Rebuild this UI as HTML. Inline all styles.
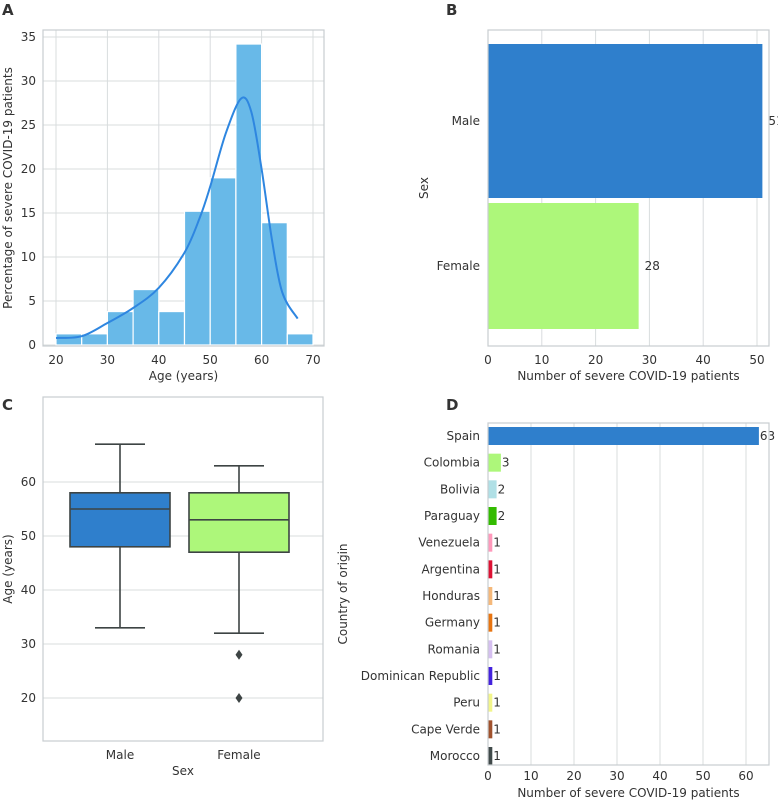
<!DOCTYPE html>
<html><head><meta charset="utf-8"><style>
body{margin:0;background:#fff;}
svg text{font-family:"DejaVu Sans","Liberation Sans",sans-serif;fill:#333;}
</style></head><body>
<svg id="s" width="778" height="803" xmlns="http://www.w3.org/2000/svg"></svg>
<script>
const histBins=[20,25,30,35,40,45,50,55,60,65];
const histVals=[1.27,1.27,3.8,6.3,3.8,15.2,19,34.2,13.9,1.27];
const kdeAge=[20,25,30,35,40,45,48,50,53,56,58,60,62,64,67];
const kdeVal=[0.8,1,2.5,4.2,6.5,10.5,14.5,18,24,28,26.5,20,12,6,3];
const sexCats=["Male","Female"];
const sexVals=[51,28];
const boxStats=[{min:33,q1:48,med:55,q3:58,max:67,out:[]},{min:32,q1:47,med:53,q3:58,max:63,out:[28,20]}];
const countries=["Spain","Colombia","Bolivia","Paraguay","Venezuela","Argentina","Honduras","Germany","Romania","Dominican Republic","Peru","Cape Verde","Morocco"];
const countryVals=[63,3,2,2,1,1,1,1,1,1,1,1,1];
const countryColors=["#2f7fcc","#adf77a","#b0e0e6","#33bb00","#ff99bb","#dd1133","#f5b87a","#e87511","#d5bff0","#4422dd","#f2f58a","#a0522d","#404a4a"];

const S=document.getElementById('s');const NS='http://www.w3.org/2000/svg';
function el(t,a,txt){const e=document.createElementNS(NS,t);for(const k in a)e.setAttribute(k,a[k]);if(txt!==undefined)e.textContent=txt;S.appendChild(e);return e;}
const GRID='#d8dcde',BOR='#c8cdd0';
function frame(x0,y0,x1,y1,n){const r=el('rect',{x:x0,y:y0,width:x1-x0,height:y1-y0,fill:'none',stroke:BOR,'stroke-width':1.2});}
function txt(x,y,t,n,extra){const e=el('text',Object.assign({x:x,y:y,'font-size':12},extra||{}),t);return e;}
function line(x1,y1,x2,y2,c,w,n){const e=el('line',{x1,y1,x2,y2,stroke:c,'stroke-width':w});return e;}

[['A',2,15],['B',446,15],['C',2,410],['D',446,410]].forEach(p=>{txt(p[1],p[2],p[0],'panel-label-'+p[0].toLowerCase(),{'font-size':15,'font-weight':'bold',fill:'#222'});});

// ---- Panel A
(function(){
const L=43,R=324,T=30,B=346;
const ax=v=>56+(v-20)*(313-56)/50, ay=v=>345-v*(345-37)/35;
[0,5,10,15,20,25,30,35].forEach(v=>{line(L,ay(v),R,ay(v),GRID,1,'a-y-grid');txt(L-7,ay(v)+4,v,'a-y-tick',{'text-anchor':'end'});});
[20,30,40,50,60,70].forEach(v=>{line(ax(v),T,ax(v),B,GRID,1,'a-x-grid');txt(ax(v),B+18,v,'a-x-tick',{'text-anchor':'middle'});});
histBins.forEach((b,i)=>{const r=el('rect',{x:ax(b),y:ay(histVals[i]),width:ax(b+5)-ax(b),height:ay(0)-ay(histVals[i]),fill:'#68b9e8',stroke:'#fff','stroke-width':1.2});
});
const pts=kdeAge.map((a,i)=>[ax(a),ay(kdeVal[i])]);
let d='M'+pts[0][0]+','+pts[0][1];
for(let i=0;i<pts.length-1;i++){const p0=pts[Math.max(0,i-1)],p1=pts[i],p2=pts[i+1],p3=pts[Math.min(pts.length-1,i+2)];
d+=`C${(p1[0]+(p2[0]-p0[0])/6).toFixed(1)},${(p1[1]+(p2[1]-p0[1])/6).toFixed(1)} ${(p2[0]-(p3[0]-p1[0])/6).toFixed(1)},${(p2[1]-(p3[1]-p1[1])/6).toFixed(1)} ${p2[0].toFixed(1)},${p2[1].toFixed(1)}`;}
const p=el('path',{d,fill:'none',stroke:'#2e86e0','stroke-width':2,'stroke-linejoin':'round'});
frame(L,T,R,B,'a-axes');
txt((L+R)/2,B+34,'Age (years)','a-x-title',{'text-anchor':'middle'});
txt(0,0,'Percentage of severe COVID-19 patients','a-y-title',{'text-anchor':'middle',transform:`translate(12,${(T+B)/2}) rotate(-90)`});
})();

// ---- Panel B
(function(){
const L=488,R=769,T=30,B=346;
const bx=v=>488+v*(757-488)/50;
[0,10,20,30,40,50].forEach(v=>{line(bx(v),T,bx(v),B,GRID,1,'b-x-grid');txt(bx(v),B+18,v,'b-x-tick',{'text-anchor':'middle'});});
const cy=[121,266],hh=[77,63];const cols=['#2f7fcc','#adf77a'];
sexCats.forEach((c,i)=>{const r=el('rect',{x:bx(0),y:cy[i]-hh[i],width:bx(sexVals[i])-bx(0),height:2*hh[i],fill:cols[i]});
txt(L-8,cy[i]+4,c,'b-y-tick',{'text-anchor':'end'});txt(bx(sexVals[i])+6,cy[i]+4,sexVals[i],'bar-value-'+c.toLowerCase());});
frame(L,T,R,B,'b-axes');
txt((L+R)/2,B+34,'Number of severe COVID-19 patients','b-x-title',{'text-anchor':'middle'});
txt(0,0,'Sex','b-y-title',{'text-anchor':'middle',transform:`translate(428,${(T+B)/2}) rotate(-90)`});
})();

// ---- Panel C
(function(){
const L=43,R=323,T=397,B=741;
const cy=v=>482+(v-60)*(698-482)/(20-60);
[20,30,40,50,60].forEach(v=>{line(L,cy(v),R,cy(v),GRID,1,'c-y-grid');txt(L-7,cy(v)+4,v,'c-y-tick',{'text-anchor':'end'});});
const cx=[120,239],hw=50,cols=['#2f7fcc','#adf77a'],ink='#3d4444';
boxStats.forEach((s,i)=>{const n=sexCats[i].toLowerCase();
line(cx[i],cy(s.max),cx[i],cy(s.q3),ink,1.6,'whisker-'+n);line(cx[i],cy(s.q1),cx[i],cy(s.min),ink,1.6,'whisker-'+n);
line(cx[i]-hw/2,cy(s.max),cx[i]+hw/2,cy(s.max),ink,1.6,'cap-'+n);line(cx[i]-hw/2,cy(s.min),cx[i]+hw/2,cy(s.min),ink,1.6,'cap-'+n);
const r=el('rect',{x:cx[i]-hw,y:cy(s.q3),width:2*hw,height:cy(s.q1)-cy(s.q3),fill:cols[i],stroke:ink,'stroke-width':1.6});
line(cx[i]-hw,cy(s.med),cx[i]+hw,cy(s.med),ink,1.6,'median-'+n);
s.out.forEach(o=>{const p=el('path',{d:`M${cx[i]},${cy(o)-5}L${cx[i]+3.5},${cy(o)}L${cx[i]},${cy(o)+5}L${cx[i]-3.5},${cy(o)}Z`,fill:ink});});
txt(cx[i],B+18,sexCats[i],'c-x-tick',{'text-anchor':'middle'});});
frame(L,T,R,B,'c-axes');
txt((L+R)/2,B+34,'Sex','c-x-title',{'text-anchor':'middle'});
txt(0,0,'Age (years)','c-y-title',{'text-anchor':'middle',transform:`translate(12,${(T+B)/2}) rotate(-90)`});
})();

// ---- Panel D
(function(){
const L=488,R=769,T=423,B=765;
const dx=v=>488+v*(746-488)/60;
const dy=i=>436+i*(756-436)/12;
[0,10,20,30,40,50,60].forEach(v=>{line(dx(v),T,dx(v),B,GRID,1,'d-x-grid');txt(dx(v),B+15,v,'d-x-tick',{'text-anchor':'middle'});});
countries.forEach((c,i)=>{const r=el('rect',{x:dx(0),y:dy(i)-9,width:dx(countryVals[i])-dx(0),height:18,fill:countryColors[i]});
txt(L-8,dy(i)+4,c,'d-y-tick',{'text-anchor':'end'});txt(dx(countryVals[i])+1,dy(i)+4,countryVals[i],'bar-value');});
frame(L,T,R,B,'d-axes');
txt((L+R)/2,B+32,'Number of severe COVID-19 patients','d-x-title',{'text-anchor':'middle'});
txt(0,0,'Country of origin','d-y-title',{'text-anchor':'middle',transform:`translate(347,${(T+B)/2}) rotate(-90)`});
})();
</script>
</body></html>
